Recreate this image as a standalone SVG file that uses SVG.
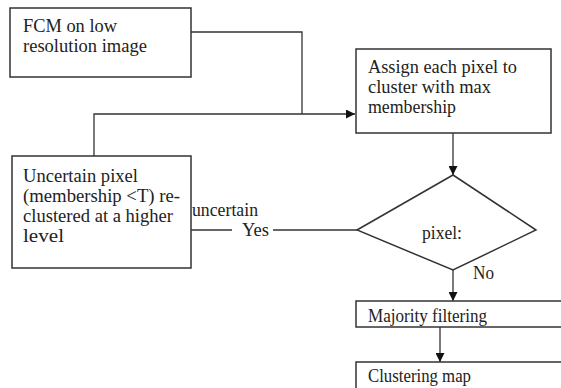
<svg xmlns="http://www.w3.org/2000/svg" width="561" height="388" viewBox="0 0 561 388" font-family="Liberation Serif, Times New Roman, serif" font-size="18">
<style>
.box{fill:#fff;stroke:#333;stroke-width:1.5}
.ln{fill:none;stroke:#333;stroke-width:1.3}
.t{fill:#222}
</style>
<defs>
<marker id="ah" viewBox="0 0 10 10" refX="10" refY="5" markerWidth="10" markerHeight="9" markerUnits="userSpaceOnUse" orient="auto">
<path d="M0,0 L10,5 L0,10 z" fill="#111"/>
</marker>
<clipPath id="cm"><rect x="356" y="301" width="210" height="26"/></clipPath>
<clipPath id="cc"><rect x="356" y="362" width="210" height="26"/></clipPath>
</defs>
<rect width="561" height="388" fill="#fff"/>
<g id="connectors">
<path class="ln" d="M191,32 H302 V114"/>
<path class="ln" d="M94,156 V114 H355" marker-end="url(#ah)"/>
<path class="ln" d="M453,133 V175" marker-end="url(#ah)"/>
<path class="ln" d="M357,230 H273"/>
<path class="ln" d="M232,230 H191"/>
<path class="ln" d="M453,270 V301" marker-end="url(#ah)"/>
<path class="ln" d="M440,327 V362" marker-end="url(#ah)"/>
<text class="t" x="192" y="216" textLength="66" lengthAdjust="spacingAndGlyphs">uncertain</text>
<text class="t" x="242" y="236" textLength="27" lengthAdjust="spacingAndGlyphs">Yes</text>
<text class="t" x="473" y="279" textLength="21" lengthAdjust="spacingAndGlyphs">No</text>
</g>
<g id="fcm">
<rect class="box" x="10" y="8" width="181" height="69"/>
<text class="t" x="23" y="32" textLength="94" lengthAdjust="spacingAndGlyphs">FCM on low</text>
<text class="t" x="23" y="52" textLength="124" lengthAdjust="spacingAndGlyphs">resolution image</text>
</g>
<g id="assign">
<rect class="box" x="356" y="49" width="195" height="84"/>
<text class="t" x="368" y="73" textLength="149" lengthAdjust="spacingAndGlyphs">Assign each pixel to</text>
<text class="t" x="368" y="93" textLength="123" lengthAdjust="spacingAndGlyphs">cluster with max</text>
<text class="t" x="368" y="113" textLength="88" lengthAdjust="spacingAndGlyphs">membership</text>
</g>
<g id="uncertain">
<rect class="box" x="12" y="156" width="179" height="112"/>
<text class="t" x="23" y="182" textLength="115" lengthAdjust="spacingAndGlyphs">Uncertain pixel</text>
<text class="t" x="23" y="202" textLength="157" lengthAdjust="spacingAndGlyphs">(membership &lt;T) re-</text>
<text class="t" x="23" y="222" textLength="150" lengthAdjust="spacingAndGlyphs">clustered at a higher</text>
<text class="t" x="23" y="242" textLength="41" lengthAdjust="spacingAndGlyphs">level</text>
</g>
<g id="decision">
<path class="box" d="M453,175 L536,230 L453,270 L357,230 Z"/>
<text class="t" x="422" y="239" textLength="40" lengthAdjust="spacingAndGlyphs">pixel:</text>
</g>
<g id="majority">
<rect class="box" x="356" y="301" width="215" height="26"/>
<text class="t" x="368" y="322" textLength="119" lengthAdjust="spacingAndGlyphs" clip-path="url(#cm)">Majority filtering</text>
</g>
<g id="clustering">
<rect class="box" x="356" y="362" width="215" height="40"/>
<text class="t" x="368" y="382" textLength="103" lengthAdjust="spacingAndGlyphs" clip-path="url(#cc)">Clustering map</text>
</g>
</svg>
